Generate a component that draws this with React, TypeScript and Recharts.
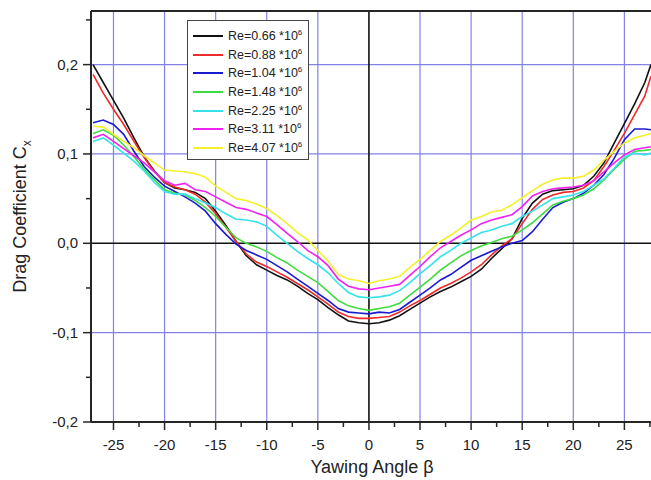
import React from 'react';
import {
  LineChart, Line, XAxis, YAxis, ReferenceLine, Legend, Label,
} from 'recharts';

const FONT = '"Liberation Sans", Arial, sans-serif';

// yawing angle (deg)
const BETA = [
  -27, -26, -25, -24, -23, -22, -21, -20, -19, -18, -17, -16, -15, -14, -13, -12, -11, -10, -9, -8, -7, -6, -5, -4, -3, -2, -1,
  0, 1, 2, 3, 4, 5, 6, 7, 8, 9, 10, 11, 12, 13, 14, 15, 16, 17, 18, 19, 20, 21, 22, 23, 24, 25, 26, 27, 27.6,
];

// drag coefficient per Reynolds number
const RE066 = [
  0.200, 0.180, 0.160, 0.140, 0.118, 0.097, 0.081, 0.068, 0.062, 0.060, 0.057, 0.050, 0.036, 0.020, 0.002, -0.014, -0.024, -0.030, -0.036, -0.041, -0.048, -0.056, -0.063, -0.072, -0.080, -0.087, -0.089,
  -0.090, -0.089, -0.086, -0.081, -0.074, -0.067, -0.060, -0.054, -0.049, -0.043, -0.037, -0.029, -0.017, -0.006, 0.005, 0.028, 0.045, 0.055, 0.059, 0.060, 0.061, 0.065, 0.075, 0.090, 0.112, 0.134, 0.156, 0.180, 0.200,
];
const RE088 = [
  0.189, 0.168, 0.150, 0.133, 0.114, 0.096, 0.080, 0.068, 0.063, 0.060, 0.055, 0.046, 0.033, 0.018, 0.002, -0.012, -0.021, -0.026, -0.032, -0.038, -0.045, -0.052, -0.060, -0.068, -0.077, -0.082, -0.084,
  -0.084, -0.083, -0.082, -0.077, -0.070, -0.064, -0.057, -0.050, -0.045, -0.039, -0.032, -0.024, -0.013, -0.003, 0.005, 0.022, 0.038, 0.049, 0.054, 0.057, 0.058, 0.062, 0.070, 0.086, 0.104, 0.123, 0.144, 0.165, 0.187,
];
const RE104 = [
  0.135, 0.138, 0.133, 0.122, 0.103, 0.086, 0.074, 0.064, 0.058, 0.052, 0.045, 0.036, 0.022, 0.010, -0.001, -0.008, -0.013, -0.018, -0.025, -0.032, -0.040, -0.048, -0.056, -0.064, -0.073, -0.077, -0.078,
  -0.079, -0.077, -0.078, -0.074, -0.066, -0.058, -0.050, -0.041, -0.035, -0.027, -0.019, -0.014, -0.009, -0.004, 0.000, 0.003, 0.013, 0.027, 0.040, 0.046, 0.050, 0.056, 0.065, 0.077, 0.095, 0.116, 0.128, 0.128, 0.127,
];
const RE148 = [
  0.123, 0.127, 0.121, 0.110, 0.097, 0.083, 0.071, 0.060, 0.056, 0.054, 0.048, 0.040, 0.030, 0.018, 0.006, 0.000, -0.004, -0.009, -0.016, -0.022, -0.030, -0.037, -0.044, -0.054, -0.064, -0.070, -0.073,
  -0.075, -0.073, -0.071, -0.067, -0.058, -0.049, -0.040, -0.030, -0.022, -0.014, -0.008, -0.003, 0.001, 0.005, 0.008, 0.015, 0.023, 0.033, 0.043, 0.047, 0.050, 0.054, 0.061, 0.071, 0.083, 0.094, 0.103, 0.104, 0.105,
];
const RE225 = [
  0.114, 0.118, 0.110, 0.101, 0.092, 0.081, 0.068, 0.058, 0.055, 0.055, 0.050, 0.045, 0.040, 0.033, 0.027, 0.026, 0.024, 0.019, 0.009, 0.000, -0.009, -0.017, -0.024, -0.033, -0.045, -0.055, -0.060,
  -0.061, -0.060, -0.058, -0.053, -0.044, -0.034, -0.025, -0.015, -0.008, 0.000, 0.006, 0.012, 0.015, 0.019, 0.022, 0.030, 0.036, 0.043, 0.050, 0.052, 0.054, 0.058, 0.065, 0.072, 0.084, 0.097, 0.101, 0.099, 0.101,
];
const RE311 = [
  0.118, 0.122, 0.114, 0.106, 0.098, 0.090, 0.080, 0.070, 0.065, 0.067, 0.060, 0.058, 0.052, 0.046, 0.040, 0.038, 0.034, 0.030, 0.021, 0.011, 0.002, -0.008, -0.015, -0.025, -0.040, -0.048, -0.051,
  -0.052, -0.050, -0.048, -0.046, -0.036, -0.026, -0.015, -0.005, 0.002, 0.009, 0.015, 0.022, 0.026, 0.029, 0.032, 0.041, 0.053, 0.058, 0.061, 0.062, 0.063, 0.065, 0.070, 0.080, 0.090, 0.099, 0.105, 0.107, 0.108,
];
const RE407 = [
  0.131, 0.130, 0.122, 0.114, 0.107, 0.098, 0.090, 0.082, 0.081, 0.080, 0.078, 0.074, 0.064, 0.057, 0.050, 0.048, 0.044, 0.039, 0.031, 0.022, 0.012, 0.004, -0.008, -0.020, -0.035, -0.040, -0.042,
  -0.045, -0.042, -0.040, -0.037, -0.027, -0.018, -0.008, 0.002, 0.009, 0.017, 0.026, 0.030, 0.035, 0.037, 0.043, 0.051, 0.059, 0.066, 0.071, 0.073, 0.073, 0.075, 0.082, 0.093, 0.103, 0.112, 0.118, 0.121, 0.123,
];

const SERIES = [
  { key: 're066', label: 'Re=0.66 *10', values: RE066, color: '#111111' },
  { key: 're088', label: 'Re=0.88 *10', values: RE088, color: '#ee2a2a' },
  { key: 're104', label: 'Re=1.04 *10', values: RE104, color: '#1a1ad0' },
  { key: 're148', label: 'Re=1.48 *10', values: RE148, color: '#3fdc3f' },
  { key: 're225', label: 'Re=2.25 *10', values: RE225, color: '#33e2ea' },
  { key: 're311', label: 'Re=3.11 *10', values: RE311, color: '#f022f0' },
  { key: 're407', label: 'Re=4.07 *10', values: RE407, color: '#f4f02a' },
];

const X_TICKS = [-25, -22.5, -20, -17.5, -15, -12.5, -10, -7.5, -5, -2.5, 0, 2.5, 5, 7.5, 10, 12.5, 15, 17.5, 20, 22.5, 25, 27.5];
const Y_TICKS = [-0.2, -0.15, -0.1, -0.05, 0, 0.05, 0.1, 0.15, 0.2, 0.25];
const GRID_X = [-25, -20, -15, -10, -5, 5, 10, 15, 20, 25];
const GRID_Y = [-0.2, -0.1, 0.1, 0.2];

const data = BETA.map((b, i) => {
  const row: Record<string, number> = { beta: b };
  SERIES.forEach((s) => { row[s.key] = s.values[i]; });
  return row;
});

const AXIS = '#262626';
const GRID = '#8282e6';

const XTick = ({ x, y, payload }: any) => {
  const v = payload.value;
  const major = Math.abs(v % 5) < 1e-6;
  return (
    <g>
      <line x1={x} y1={y} x2={x} y2={y + (major ? 8 : 5)} stroke={AXIS} strokeWidth={1.5} />
      {major && (
        <text x={x} y={y + 28} textAnchor="middle" fontSize={15} fontFamily={FONT} fill="#222">
          {v}
        </text>
      )}
    </g>
  );
};

const YTick = ({ x, y, payload }: any) => {
  const v = payload.value;
  const major = Math.abs(v * 10 - Math.round(v * 10)) < 1e-6;
  return (
    <g>
      <line x1={x} y1={y} x2={x - (major ? 8 : 5)} y2={y} stroke={AXIS} strokeWidth={1.5} />
      {major && (
        <text x={x - 13} y={y + 5} textAnchor="end" fontSize={15} fontFamily={FONT} fill="#222">
          {v.toFixed(1).replace('.', ',')}
        </text>
      )}
    </g>
  );
};

const LegendBox = ({ payload }: any) => (
  <div
    style={{
      width: 122, height: 140, boxSizing: 'border-box', border: '1px solid #444',
      background: '#fff', padding: '6px 0 0 5px', fontFamily: FONT, fontSize: 12.5, color: '#222',
    }}
  >
    {(payload || []).map((p: any) => (
      <div key={p.value} style={{ display: 'flex', alignItems: 'center', height: 18.6 }}>
        <svg width={30} height={4} style={{ display: 'block' }}>
          <line x1={0} y1={2} x2={30} y2={2} stroke={p.color} strokeWidth={2} />
        </svg>
        <span style={{ marginLeft: 5, whiteSpace: 'nowrap' }}>
          {p.value}
          <span style={{ fontSize: 8, position: 'relative', top: -5 }}>6</span>
        </span>
      </div>
    ))}
  </div>
);

export default function App() {
  return (
    <div style={{ position: 'absolute', left: 0, top: 0, width: 651, height: 480, overflow: 'hidden', background: '#fff' }}>
      <LineChart width={660} height={480} data={data} margin={{ top: 11, right: 7, bottom: 18, left: 31 }}>
        {GRID_X.map((g) => (
          <ReferenceLine key={`gx${g}`} x={g} stroke={GRID} strokeWidth={1.2} />
        ))}
        {GRID_Y.map((g) => (
          <ReferenceLine key={`gy${g}`} y={g} stroke={GRID} strokeWidth={1.2} />
        ))}
        <ReferenceLine x={0} stroke="#111" strokeWidth={1.6} />
        <ReferenceLine y={0} stroke="#111" strokeWidth={1.6} />
        <ReferenceLine y={0.26} stroke={AXIS} strokeWidth={2} />
        <XAxis
          dataKey="beta"
          type="number"
          domain={[-27.2, 27.8]}
          allowDataOverflow
          ticks={X_TICKS}
          interval={0}
          height={40}
          tickSize={0}
          tickMargin={0}
          tick={<XTick />}
          axisLine={{ stroke: AXIS, strokeWidth: 2 }}
          tickLine={false}
        >
          <Label
            content={({ viewBox }: any) => (
              <text
                x={viewBox.x + viewBox.width / 2}
                y={viewBox.y + 51}
                textAnchor="middle"
                fontSize={18}
                fontFamily={FONT}
                fill="#222"
              >
                Yawing Angle β
              </text>
            )}
          />
        </XAxis>
        <YAxis
          type="number"
          domain={[-0.2, 0.26]}
          allowDataOverflow
          ticks={Y_TICKS}
          interval={0}
          width={60}
          tickSize={0}
          tickMargin={0}
          tick={<YTick />}
          axisLine={{ stroke: AXIS, strokeWidth: 2 }}
          tickLine={false}
        >
          <Label
            content={({ viewBox }: any) => {
              const cx = viewBox.x - 5;
              const cy = viewBox.y + viewBox.height / 2;
              return (
                <text
                  x={cx}
                  y={cy}
                  transform={`rotate(-90 ${cx} ${cy})`}
                  textAnchor="middle"
                  fontSize={18}
                  fontFamily={FONT}
                  fill="#222"
                >
                  Drag Coefficient C
                  <tspan fontSize={12} dy={5}>x</tspan>
                </text>
              );
            }}
          />
        </YAxis>
        {SERIES.map((s) => (
          <Line
            key={s.key}
            dataKey={s.key}
            name={s.label}
            type="linear"
            stroke={s.color}
            strokeWidth={1.6}
            dot={false}
            activeDot={false}
            isAnimationActive={false}
          />
        ))}
        <Legend
          layout="horizontal"
          verticalAlign="middle"
          align="center"
          content={<LegendBox />}
          wrapperStyle={{ position: 'absolute', left: 187, top: 20, width: 122, height: 140 }}
        />
      </LineChart>
    </div>
  );
}
